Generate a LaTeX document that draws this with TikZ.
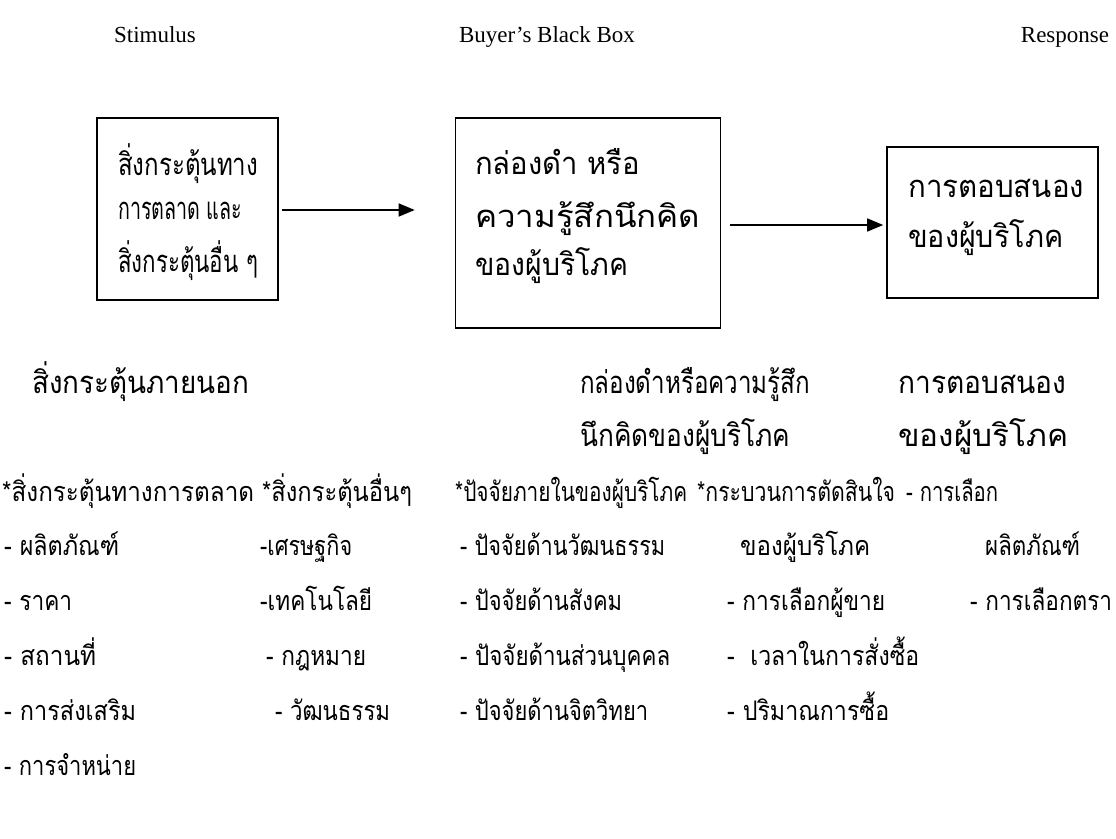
\documentclass[tikz,border=0pt]{standalone}
\usepackage{fontspec}
\usepackage{graphicx}
\setmainfont{Liberation Serif}
\newfontfamily\thaifont[Script=Thai]{Loma}
\usetikzlibrary{arrows.meta}
\newcommand{\fitw}[2]{\resizebox{#1pt}{\height}{#2}}
\begin{document}
\begin{tikzpicture}[x=1pt,y=-1pt,
  en/.style={inner sep=0pt,anchor=base,font=\fontsize{23}{27}\selectfont},
  th/.style={inner sep=0pt,anchor=base west,font=\thaifont\fontsize{31}{36}\selectfont},
  thr/.style={inner sep=0pt,anchor=base west,font=\thaifont\fontsize{27}{32}\selectfont},
  boxnode/.style={draw,line width=1.6pt,inner sep=0pt},
  arr/.style={line width=1.5pt,-{Triangle[length=16pt,width=13pt]}}]
\useasboundingbox (0,0) rectangle (1116,838);
\fill[white] (0,0) rectangle (1116,838);
% headings
\node[en] (hs) at (155,42) {Stimulus};
\node[en] (hb) at (547,42) {Buyer's Black Box};
\node[en] (hr) at (1065,42) {Response};
% boxes
\node[boxnode,minimum width=181pt,minimum height=182pt] (b1) at (187.5,209) {};
\node[boxnode,minimum width=265pt,minimum height=210pt] (b2) at (588,223) {};
\node[boxnode,minimum width=211pt,minimum height=151pt] (b3) at (992.5,222.5) {};
% box texts
\node[th] (t11) at (118,175) {\fitw{140}{สิ่งกระตุ้นทาง}};
\node[th] (t12) at (118,219) {\fitw{124}{การตลาด และ}};
\node[th] (t13) at (118,272) {\fitw{140}{สิ่งกระตุ้นอื่น ๆ}};
\node[th] (t21) at (475,174) {\fitw{165}{กล่องดำ หรือ}};
\node[th] (t22) at (475,227) {\fitw{225}{ความรู้สึกนึกคิด}};
\node[th] (t23) at (475,275) {\fitw{153}{ของผู้บริโภค}};
\node[th] (t31) at (908,197) {\fitw{176}{การตอบสนอง}};
\node[th] (t32) at (908,247) {\fitw{155}{ของผู้บริโภค}};
% arrows
\coordinate (a1s) at (282,210);
\coordinate (a2s) at (730,225);
\draw[arr] (a1s) -- (a1s -| b2.west) [shorten >=40pt];
\draw[arr] (a2s) -- (a2s -| b3.west) [shorten >=3pt];
% captions
\node[th] (c1) at (32,393) {\fitw{217}{สิ่งกระตุ้นภายนอก}};
\node[th] (c21) at (580,393) {\fitw{230}{กล่องดำหรือความรู้สึก}};
\node[th] (c22) at (580,446) {\fitw{210}{นึกคิดของผู้บริโภค}};
\node[th] (c31) at (898,393) {\fitw{168}{การตอบสนอง}};
\node[th] (c32) at (898,446) {\fitw{170}{ของผู้บริโภค}};
% row 1
\node[thr] (r11) at (2,501) {\fitw{252}{*สิ่งกระตุ้นทางการตลาด}};
\node[thr] (r12) at (262,501) {\fitw{150}{*สิ่งกระตุ้นอื่นๆ}};
\node[thr] (r13) at (455,501) {\fitw{232}{*ปัจจัยภายในของผู้บริโภค}};
\node[thr] (r14) at (697,501) {\fitw{198}{*กระบวนการตัดสินใจ}};
\node[thr] (r15) at (906,501) {\fitw{92}{- การเลือก}};
% row 2
\node[thr] (r21) at (4,555) {\fitw{115}{- ผลิตภัณฑ์}};
\node[thr] (r22) at (260,555) {\fitw{92}{-เศรษฐกิจ}};
\node[thr] (r23) at (460,555) {\fitw{205}{- ปัจจัยด้านวัฒนธรรม}};
\node[thr] (r24) at (740,555) {\fitw{130}{ของผู้บริโภค}};
\node[thr] (r25) at (985,555) {\fitw{95}{ผลิตภัณฑ์}};
% row 3
\node[thr] (r31) at (4,610) {\fitw{68}{- ราคา}};
\node[thr] (r32) at (260,610) {\fitw{112}{-เทคโนโลยี}};
\node[thr] (r33) at (460,610) {\fitw{162}{- ปัจจัยด้านสังคม}};
\node[thr] (r34) at (727,610) {\fitw{158}{- การเลือกผู้ขาย}};
\node[thr] (r35) at (970,610) {\fitw{142}{- การเลือกตรา}};
% row 4
\node[thr] (r41) at (4,665) {\fitw{92}{- สถานที่}};
\node[thr] (r42) at (266,665) {\fitw{100}{- กฎหมาย}};
\node[thr] (r43) at (460,665) {\fitw{210}{- ปัจจัยด้านส่วนบุคคล}};
\node[thr] (r44) at (727,665) {\fitw{192}{-\ \ เวลาในการสั่งซื้อ}};
% row 5
\node[thr] (r51) at (4,720) {\fitw{132}{- การส่งเสริม}};
\node[thr] (r52) at (275,720) {\fitw{115}{- วัฒนธรรม}};
\node[thr] (r53) at (460,720) {\fitw{188}{- ปัจจัยด้านจิตวิทยา}};
\node[thr] (r54) at (727,720) {\fitw{162}{- ปริมาณการซื้อ}};
% row 6
\node[thr] (r61) at (4,775) {\fitw{132}{- การจำหน่าย}};
\end{tikzpicture}
\end{document}
